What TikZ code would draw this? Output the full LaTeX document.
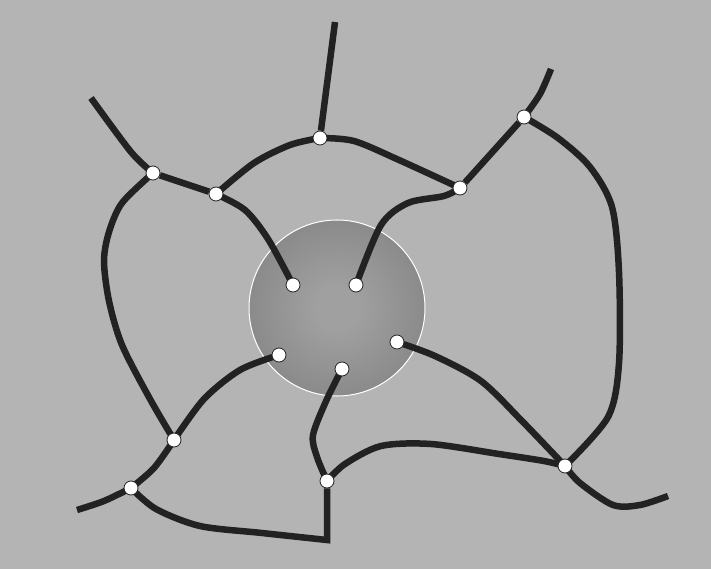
\documentclass[tikz,border=0pt]{standalone}
\usepackage{tikz}
\usetikzlibrary{backgrounds}
\definecolor{bggrey}{RGB}{180,180,180}
\definecolor{strandcol}{RGB}{34,34,34}
\definecolor{sphin}{RGB}{160,160,160}
\definecolor{sphout}{RGB}{110,110,110}
\pgfdeclareradialshading{sphshade}{\pgfpoint{0bp}{0bp}}{color(0bp)=(sphin); color(6bp)=(sphin); color(50bp)=(sphout); color(60bp)=(sphout)}
\tikzset{
  site/.style={circle, draw=strandcol, fill=white, inner sep=0pt,
    minimum size=14pt, line width=0.8pt},
  strand/.style={draw=strandcol, line width=6.5pt, line join=miter},
  rim/.style={draw=white, line width=1pt}
}

\begin{document}
\begin{tikzpicture}[x=1pt, y=-1pt]
  \useasboundingbox (0,0) rectangle (711,569);
  % sites round the sphere
  \node[site] (wa) at (153,173) {};
  \node[site] (wb) at (216,194) {};
  \node[site] (top) at (320,138) {};
  \node[site] (wc) at (460,188) {};
  \node[site] (wd) at (524,117) {};
  \node[site] (sa) at (174,440) {};
  \node[site] (sb) at (131,488) {};
  \node[site] (sc) at (327,481) {};
  \node[site] (sd) at (565,466) {};
  % sites on the sphere
  \node[site] (ea) at (293,285) {};
  \node[site] (eb) at (356,285) {};
  \node[site] (ec) at (279,355) {};
  \node[site] (ed) at (342,369) {};
  \node[site] (ee) at (397,342) {};
  % free ends
  \coordinate (endtop) at (335,22);
  \coordinate (endul) at (91,98);
  \coordinate (endur) at (551,69);
  \coordinate (endll) at (77,510);
  \coordinate (endlr) at (668,496);
  \coordinate (bend) at (327,540);

  \begin{scope}[on background layer]
    \fill[bggrey] (0,0) rectangle (711,569);
    \shade[shading=sphshade] (337,308) circle[radius=88pt];
    \draw[rim] (337,308) circle[radius=88pt];

    \draw[strand] (endtop) -- (top);
    \draw[strand] plot[smooth] coordinates {(endul) (131,152) (wa)};
    \draw[strand] (wa) -- (wb);
    \draw[strand] plot[smooth] coordinates {(wa) (122,203) (109,232) (104,261) (109,301) (122,345) (150,399) (sa)};
    \draw[strand] plot[smooth] coordinates {(wb) (254,163) (290,145) (top)};
    \draw[strand] plot[smooth] coordinates {(top) (354,141) (399,160) (wc)};
    \draw[strand] plot[smooth] coordinates {(wb) (245,210) (268,239) (ea)};
    \draw[strand] plot[smooth] coordinates {(wc) (444,196) (408,203) (381,225) (eb)};
    \draw[strand] (wc) -- (wd);
    \draw[strand] plot[smooth] coordinates {(wd) (540,94) (endur)};
    \draw[strand] plot[smooth] coordinates {(wd) (558,138) (590,167) (612,207) (619,272) (619,363) (608,417) (sd)};
    \draw[strand] plot[smooth] coordinates {(ec) (240,370) (204,399) (sa)};
    \draw[strand] plot[smooth] coordinates {(sa) (154,468) (sb)};
    \draw[strand] plot[smooth] coordinates {(sb) (104,501) (endll)};
    \draw[strand] plot[smooth] coordinates {(sb) (156,509) (200,526) (262,533) (bend)} -- (sc);
    \draw[strand] plot[smooth] coordinates {(ed) (327,399) (313,435) (317,457) (sc)};
    \draw[strand] plot[smooth] coordinates {(sc) (345,464) (381,446) (431,444) (499,454) (544,461) (sd)};
    \draw[strand] plot[smooth] coordinates {(ee) (435,356) (481,381) (522,421) (sd)};
    \draw[strand] plot[smooth] coordinates {(sd) (580,483) (613,505) (640,505) (endlr)};
  \end{scope}
\end{tikzpicture}
\end{document}
